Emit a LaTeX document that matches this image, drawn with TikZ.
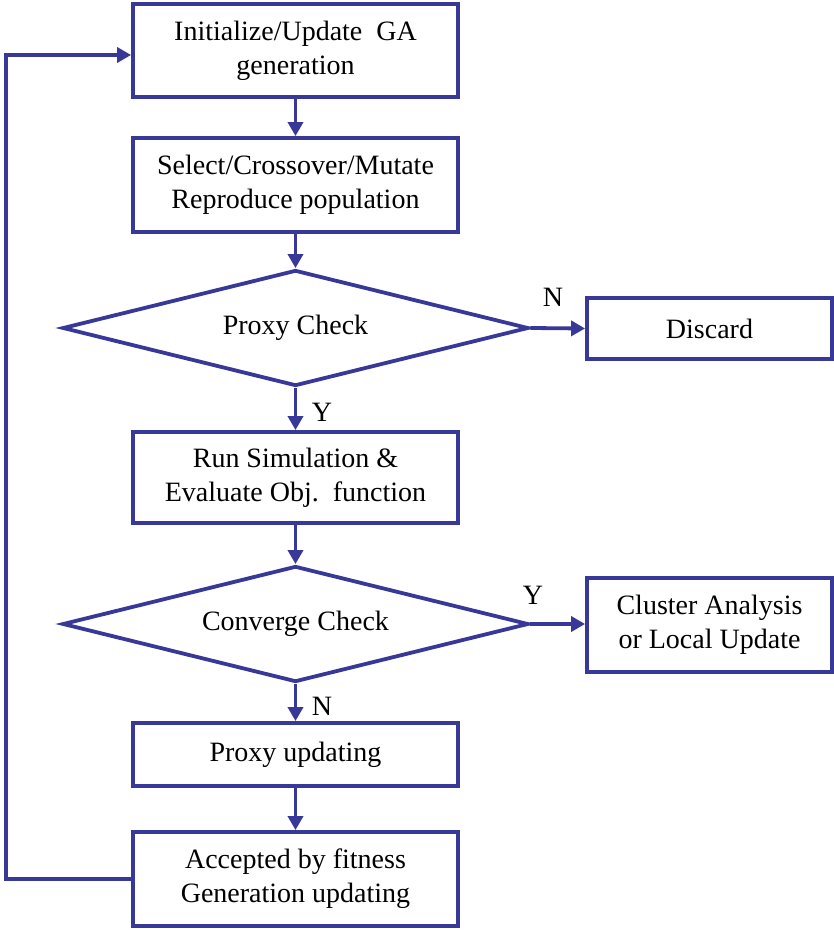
\documentclass[tikz,border=0pt]{standalone}
\usepackage{fontspec}
\setmainfont{Liberation Serif}
\usetikzlibrary{shapes.geometric,arrows.meta}
\definecolor{fc}{RGB}{56,56,152}
\begin{document}
\begin{tikzpicture}[x=1pt,y=-1pt,
  every node/.style={font=\fontsize{28}{34}\selectfont},
  box/.style={draw=fc,line width=3.8pt,inner sep=0pt,align=center,minimum width=325pt},
  dia/.style={draw=fc,line width=3.8pt,diamond,shape aspect=4,inner sep=0pt,minimum width=466pt,minimum height=116pt},
  arr/.style={draw=fc,line width=3.8pt,-{Triangle[length=14pt,width=15pt]}},
  lab/.style={inner sep=0pt}]
\useasboundingbox (0,0) rectangle (834,930);
\node[box,minimum height=93pt] (b1) at (295.5,50.5) {Initialize/Update\ \ GA\\generation};
\node[box,minimum height=94pt] (b2) at (295.5,185) {Select/Crossover/Mutate\\Reproduce population};
\node[dia] (d1) at (295.5,328) {\raisebox{-3pt}{Proxy Check}};
\node[box,minimum width=245pt,minimum height=61pt] (dis) at (709.5,328.5) {Discard};
\node[box,minimum height=91pt] (b3) at (295.5,477.5) {Run Simulation \&\\Evaluate Obj.\ \ function};
\node[dia] (d2) at (295.5,624) {\raisebox{-1pt}{Converge Check}};
\node[box,minimum width=245pt,minimum height=94pt] (cl) at (709.5,625) {Cluster Analysis\\or Local Update};
\node[box,minimum height=63pt] (b4) at (295.5,754.5) {Proxy updating};
\node[box,minimum height=94pt] (b5) at (295.5,879) {Accepted by fitness\\Generation updating};
\draw[arr] (b1) -- (b2);
\draw[arr] (b2) -- (d1);
\draw[arr] (d1) -- (b3);
\draw[arr] (d1.east) -- (dis.west);
\draw[arr] (b3) -- (d2);
\draw[arr] (d2.east) -- (cl.west |- d2.east);
\draw[arr] (d2) -- (b4);
\draw[arr] (b4) -- (b5);
\coordinate (fbl) at (6,879);
\coordinate (fbt) at (6,55);
\draw[arr] (b5.west) -- (fbl) -- (fbt) -- (b1.west |- fbt);
\node[lab] (n1) at (553,297) {N};
\node[lab] (y1) at (322,412) {Y};
\node[lab] (y2) at (533,595) {Y};
\node[lab] (n2) at (322,706) {N};
\end{tikzpicture}
\end{document}
